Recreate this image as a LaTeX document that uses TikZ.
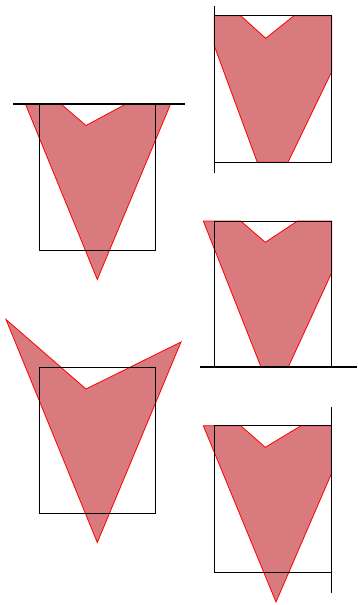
\documentclass[tikz,border=0pt]{standalone}
\usepackage{tikz}
\definecolor{piecered}{RGB}{216,122,126}

\begin{document}
\begin{tikzpicture}[x=1pt,y=-1pt,
  piece/.style={fill=piecered,draw=red,line width=.8pt},
  frame/.style={draw=black,line width=.9pt},
  cutline/.style={draw=black,line width=1.5pt}]
\useasboundingbox (0,0) rectangle (358,605);
%\draw (0,0) grid (358,605);

% left column
\draw [piece] (25.4,104) -- (61,104) -- (86,125.5) -- (126,104) -- (170.6,104) -- (97.3,279.5) -- cycle;
\draw [frame] (39,104) rectangle (155.7,250);
\draw [cutline] (13.3,104) -- (185,104);

\draw [piece] (6,319.5) -- (86,389) -- (181,342) -- (97.3,542.5) -- cycle;
\draw [frame] (39,367.3) rectangle (155.7,513);

% right column
\draw [piece] (214.3,15.7) -- (240.7,15.7) -- (265.7,38.3) -- (294,15.7) -- (331.7,15.7) -- (331.7,71.7) -- (288,162.3) -- (257.3,162.3) -- (214.3,46) -- cycle;
\draw [frame] (214.3,15.7) rectangle (331.7,162.3);
\draw [cutline] (214.3,5.7) -- (214.3,172.7);

\draw [piece] (203.3,221) -- (240.7,221) -- (265.3,242.3) -- (297.5,221) -- (331.7,221) -- (331.7,272.7) -- (288.3,367) -- (261,367) -- cycle;
\draw [frame] (214.3,221) rectangle (331.7,367);
\draw [cutline] (200,367) -- (357,367);

\draw [piece] (203.3,425.7) -- (240.7,425.7) -- (265.3,447.3) -- (301,425.7) -- (331.3,425.7) -- (331.3,474) -- (276,602) -- cycle;
\draw [frame] (214.3,425.7) rectangle (331.3,572);
\draw [cutline] (331.3,407.3) -- (331.3,593.3);
\end{tikzpicture}
\end{document}
